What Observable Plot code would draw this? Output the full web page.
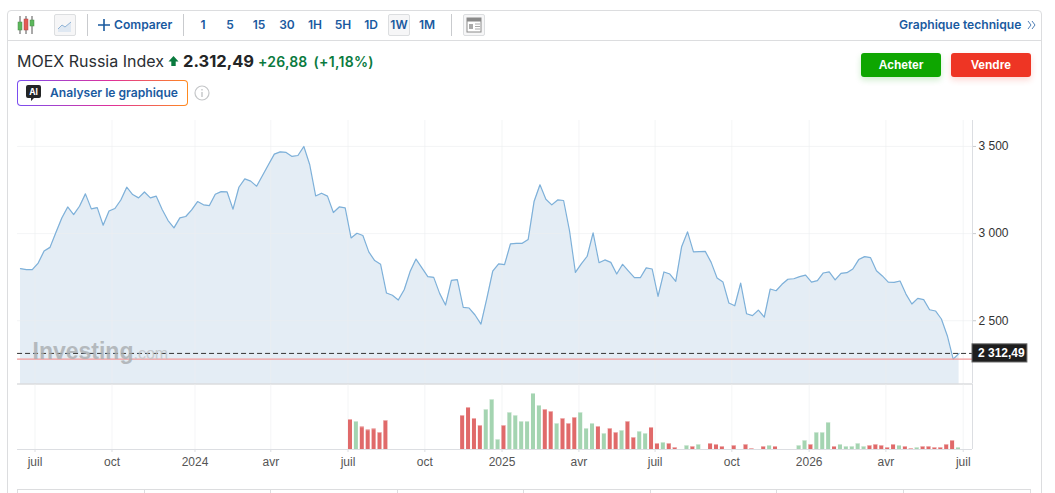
<!DOCTYPE html>
<html lang="fr"><head><meta charset="utf-8">
<script src="https://cdn.jsdelivr.net/npm/d3@7"></script>
<script src="https://cdn.jsdelivr.net/npm/@observablehq/plot@0.6"></script>
<style>
html,body{margin:0;padding:0;background:#fff;width:1055px;height:493px;overflow:hidden}
body{position:relative;font-family:Inter,"Liberation Sans",sans-serif}
.a{position:absolute;white-space:nowrap}
.tb{color:#1a5a9f;font-weight:600;font-size:12px;line-height:16px;top:17px;transform:translateX(-50%)}
.sep{position:absolute;top:14px;height:22px;width:1px;background:#c9cbce}
.ib{position:absolute;top:14px;width:20px;height:20px;border:1px solid #dcdee0;border-radius:2px;background:#f6f6f7}
.btn{position:absolute;top:53px;height:24px;width:80px;border-radius:3px;color:#fff;font:700 12px/24px "Liberation Sans",sans-serif;text-align:center}
#price,#volume{position:absolute;left:0}
#price{top:120px}#volume{top:384px}
#price svg,#volume svg{display:block;overflow:visible}
</style></head><body>
<script>
const priceValues=[2799,2793,2793,2831,2900,2921,3006,3090,3153,3109,3157,3228,3142,3149,3048,3130,3144,3193,3266,3224,3205,3239,3205,3215,3138,3075,3033,3090,3098,3136,3184,3165,3161,3226,3241,3239,3140,3266,3314,3301,3272,3333,3395,3456,3469,3466,3443,3448,3500,3395,3216,3232,3215,3121,3153,3148,2975,3002,2989,2895,2845,2824,2659,2646,2619,2678,2782,2854,2803,2753,2749,2657,2590,2732,2736,2577,2573,2533,2481,2628,2785,2826,2822,2941,2944,2944,2966,3184,3280,3197,3165,3193,3190,3017,2778,2826,2870,3004,2833,2849,2835,2768,2824,2785,2747,2747,2803,2797,2640,2780,2768,2726,2925,3010,2895,2897,2898,2835,2745,2722,2602,2586,2716,2540,2529,2561,2521,2682,2672,2709,2738,2741,2753,2762,2722,2730,2774,2780,2734,2772,2776,2797,2851,2868,2862,2787,2757,2722,2720,2728,2653,2596,2628,2621,2563,2556,2510,2414,2280,2312.49];
const volumeWeeks=[56,57,58,59,60,61,62,75,76,77,78,79,80,81,82,83,84,85,86,87,88,89,90,91,92,93,94,95,96,97,98,99,100,101,102,103,104,105,106,107,108,109,110,111,113,114,115,117,118,119,121,123,124,126,127,128,132,133,134,135,136,137,138,139,140,141,142,143,144,145,146,147,148,149,150,151,152,153,154,155,156,157,158,159];
const volumeValues=[90,84,68,59,62,51,87,102,126,93,72,120,150,30,72,111,102,84,84,168,132,120,114,78,93,78,96,111,63,78,69,48,63,51,57,84,36,54,48,66,18,21,18,6,12,9,15,18,15,9,12,15,3,9,12,9,12,27,15,51,51,81,9,15,9,9,18,9,12,15,12,6,15,12,9,3,6,9,9,6,6,15,27,6];
const volumeUp=[0,1,0,0,0,0,0, 0,0,0,0,1,1,1,0,1,1,1,1,1,1,0,0,1,0,0,0,1,1,1,0,1,0,0,1,0,0,1,1,0,0,1,0,0, 1,0,1,0,0,0,0,0,0,0,1,0, 1,1,0,1,1,1,0,1,1,1,1,1,0,0,0,0,0,1,0,0,1,0,0,0,0,0,0,1];
const tickWeeks=[2.46,15.5,29.56,42.4,55.48,68.5,81.57,94.6,107.5,120.5,133.6,146.6,159.7];
const tickLabels=["juil","oct","2024","avr","juil","oct","2025","avr","juil","oct","2026","avr","juil"];
const priceTicks=[2500,3000,3500];
const lastPrice=2312.49, lowLine=2280;
const axisEnd=161.27, axisStart=-0.5;
const sans='"Liberation Sans",Arial,sans-serif';
const xOpts={domain:[0,axisEnd]};
const volumeRows=volumeWeeks.map((w,i)=>({week:w,volume:volumeValues[i],up:volumeUp[i]?"up":"down"}));
const frFmt=v=>String(v).replace(/\B(?=(\d{3})+(?!\d))/g," ");
</script>

<div class="a" style="left:6.5px;top:9.5px;width:1035px;height:500px;border:1px solid #dcdddf;border-radius:4px;box-sizing:border-box"></div>
<div class="a" style="left:7px;top:40px;width:1035px;height:1px;background:#dcdddf"></div>

<svg class="a" style="left:16px;top:14px" width="20" height="22" viewBox="0 0 20 22">
<path d="M4 2v18M10 2v18M16 2v18" stroke="#555" stroke-width="1"/>
<rect x="2" y="8" width="4" height="8" fill="#5cb85c" stroke="#4a8a4a" stroke-width=".5"/>
<rect x="8" y="5" width="4" height="11" fill="#e25b54" stroke="#a84a4a" stroke-width=".5"/>
<rect x="14" y="6" width="4" height="6" fill="#5cb85c" stroke="#4a8a4a" stroke-width=".5"/>
</svg>
<div class="ib" style="left:54px"><svg width="20" height="20"><path d="M3 14l4-4 3 2 6-5v10H3z" fill="#dfe8f2"/><path d="M3 14l4-4 3 2 6-5" fill="none" stroke="#8fb3d6"/></svg></div>
<div class="sep" style="left:87px"></div>
<svg class="a" style="left:98px;top:19px" width="12" height="12"><path d="M6 0v12M0 6h12" stroke="#1a5a9f" stroke-width="1.6"/></svg>
<div class="a" style="left:114px;top:17px;color:#1a5a9f;font-weight:600;font-size:12.1px;line-height:16px">Comparer</div>
<div class="sep" style="left:182.5px"></div>
<div class="ib" style="left:388px"></div>
<div class="a tb" style="left:203px">1</div><div class="a tb" style="left:230px">5</div><div class="a tb" style="left:259px">15</div><div class="a tb" style="left:287px">30</div><div class="a tb" style="left:315px">1H</div><div class="a tb" style="left:343px">5H</div><div class="a tb" style="left:371px">1D</div><div class="a tb" style="left:399px">1W</div><div class="a tb" style="left:427px">1M</div>
<div class="sep" style="left:451px"></div>
<div class="ib" style="left:463px"><svg width="20" height="20"><rect x="3" y="3" width="14" height="14" fill="#fff" stroke="#8a8a8a"/><rect x="3" y="3" width="14" height="3.5" fill="#8a8a8a"/><rect x="5" y="9" width="4" height="5" fill="#aaa"/><path d="M11 9h5M11 11.5h5M11 14h5" stroke="#aaa"/></svg></div>
<div class="a" style="left:899px;top:17px;color:#1a5a9f;font-weight:600;font-size:12.1px;line-height:16px">Graphique technique</div>
<svg class="a" style="left:1027px;top:20px" width="9" height="10"><path d="M1 1l3 4-3 4M5 1l3 4-3 4" fill="none" stroke="#4f7fb5"/></svg>

<div class="a" style="left:17px;top:51px;font-size:16px;line-height:20px;color:#2a2e33">MOEX Russia Index</div>
<svg class="a" style="left:167.5px;top:55px" width="11" height="12"><path d="M5.5 1L10.5 6.5H7.7V11H3.3V6.5H.5z" fill="#0a7a3e"/></svg>
<div class="a" style="left:183px;top:51px;font-size:16.5px;line-height:20px;font-weight:700;color:#232526">2.312,49</div>
<div class="a" style="left:258px;top:52px;font-size:14px;letter-spacing:.2px;line-height:20px;font-weight:600;color:#0a7a3e">+26,88</div>
<div class="a" style="left:313.5px;top:52px;font-size:14px;letter-spacing:.3px;line-height:20px;font-weight:600;color:#0a7a3e">(+1,18%)</div>
<div class="btn" style="left:861px;background:#0ea600;box-shadow:0 3px 6px rgba(14,166,0,.2)">Acheter</div>
<div class="btn" style="left:951px;background:#ee3524;box-shadow:0 3px 6px rgba(238,53,36,.2)">Vendre</div>

<div class="a" style="left:17px;top:80px;width:171px;height:26px;border-radius:4px;background:linear-gradient(90deg,#7a4df0,#e0309a 55%,#ff8a1e);padding:1px;box-sizing:border-box"><div style="width:100%;height:100%;background:#fff;border-radius:3px"></div></div>
<svg class="a" style="left:26px;top:85px" width="16" height="17"><path d="M2 0h11a2 2 0 0 1 2 2v9a2 2 0 0 1-2 2H8l-3 3v-3H2a2 2 0 0 1-2-2V2a2 2 0 0 1 2-2z" fill="#232526"/><text x="7.5" y="10" text-anchor="middle" font-family="Inter" font-weight="700" font-size="8.5" fill="#fff">AI</text></svg>
<div class="a" style="left:50px;top:85px;font-size:12.1px;line-height:16px;font-weight:600;color:#1a5a9f">Analyser le graphique</div>
<svg class="a" style="left:194px;top:85px" width="16" height="16"><circle cx="8" cy="8" r="7" fill="none" stroke="#c4c6c8" stroke-width="1.2"/><path d="M8 7v5M8 4v1.6" stroke="#c4c6c8" stroke-width="1.4"/></svg>

<div id="price"></div>
<div id="volume"></div>
<div class="a" style="left:32.5px;top:337px;font:700 23px/28px 'Liberation Sans',sans-serif;color:#a9adb0;opacity:.8;pointer-events:none">Investing<span style="font-weight:400;font-size:16px;color:#bfc3c6">.com</span></div>

<div class="a" style="left:17px;top:489px;width:1014px;height:10px;border-top:1px solid #dcdddf;border-left:1px solid #dcdddf;border-right:1px solid #dcdddf;box-sizing:border-box;display:grid;grid-template-columns:repeat(8,1fr)">
<i style="border-right:1px solid #dcdddf"></i><i style="border-right:1px solid #dcdddf"></i><i style="border-right:1px solid #dcdddf"></i><i style="border-right:1px solid #dcdddf"></i><i style="border-right:1px solid #dcdddf"></i><i style="border-right:1px solid #dcdddf"></i><i style="border-right:1px solid #dcdddf"></i><i></i></div>

<script>
const gridColor="#eceef0";
const priceBottom=2137;
document.getElementById("price").append(Plot.plot({
  width:1055,height:264,marginLeft:20,marginRight:83,marginTop:0,marginBottom:0.5,
  style:{background:"transparent",fontFamily:sans,fontSize:"12px",color:"#333"},
  x:{...xOpts,axis:null},
  y:{domain:[priceBottom,3649],axis:null},
  marks:[
    Plot.area(priceValues,{x1:(d,i)=>i,y1:priceBottom,y2:d=>d,fill:"#e4edf5"}),
    Plot.ruleX(tickWeeks,{stroke:gridColor,strokeOpacity:.6}),
    Plot.ruleY(priceTicks,{x1:axisStart,x2:axisEnd,stroke:gridColor,strokeOpacity:.6}),
    Plot.line(priceValues,{x:(d,i)=>i,y:d=>d,stroke:"#7db0d9",strokeWidth:1.2,curve:"linear"}),
    Plot.ruleY([priceBottom],{x1:axisStart,x2:axisEnd,stroke:"#c9cbce",strokeWidth:1}),
    Plot.ruleX([axisEnd],{stroke:"#dcdee2"}),
    Plot.ruleY([lowLine],{x1:axisStart,x2:axisEnd,stroke:"#f29a9a",strokeWidth:1.2}),
    Plot.ruleY([lastPrice],{x1:axisStart,x2:axisEnd,stroke:"#333",strokeWidth:1,strokeDasharray:"5,3"}),
    Plot.axisY({anchor:"right",ticks:priceTicks,tickSize:3,tickPadding:3,tickFormat:frFmt,fontSize:12,fill:"#333",stroke:"#c9cbce"}),
    Plot.rect([lastPrice],{x1:axisEnd,x2:axisEnd+9.3,y1:d=>d-52,y2:d=>d+52,fill:"#1e1e1e",stroke:"#666"}),
    Plot.text([lastPrice],{x:axisEnd,y:d=>d,text:d=>frFmt(Math.floor(d))+",49",dx:5.5,textAnchor:"start",fill:"#fff",fontSize:12,fontWeight:700})
  ]
}));
document.getElementById("volume").append(Plot.plot({
  width:1055,height:91,marginLeft:20,marginRight:83,marginTop:0,marginBottom:26,
  style:{background:"transparent",fontFamily:sans,fontSize:"12px",color:"#555"},
  x:{...xOpts,axis:null},
  y:{domain:[0,195],axis:null},
  color:{domain:["down","up"],range:["#e06a6a","#a4d4b1"]},
  marks:[
    Plot.ruleX(tickWeeks,{stroke:gridColor,strokeOpacity:.6}),
    Plot.ruleX([axisEnd],{stroke:"#dcdee2"}),
    Plot.rectY(volumeRows,{x1:d=>d.week-.44,x2:d=>d.week+.24,y:"volume",fill:"up"}),
    Plot.rect(volumeRows,{x1:d=>d.week-.44,x2:d=>d.week+.24,y1:d=>d.volume-3,y2:"volume",fill:"#fff",fillOpacity:.45}),
    Plot.ruleY([0],{x1:axisStart,x2:axisEnd,stroke:"#dcdee2"}),
    Plot.axisX({ticks:tickWeeks,anchor:"bottom",tickSize:3,tickPadding:5,tickFormat:d=>tickLabels[tickWeeks.indexOf(d)],fontSize:12,fill:"#555",stroke:"#dcdee2"})
  ]
}));
</script>
</body></html>
